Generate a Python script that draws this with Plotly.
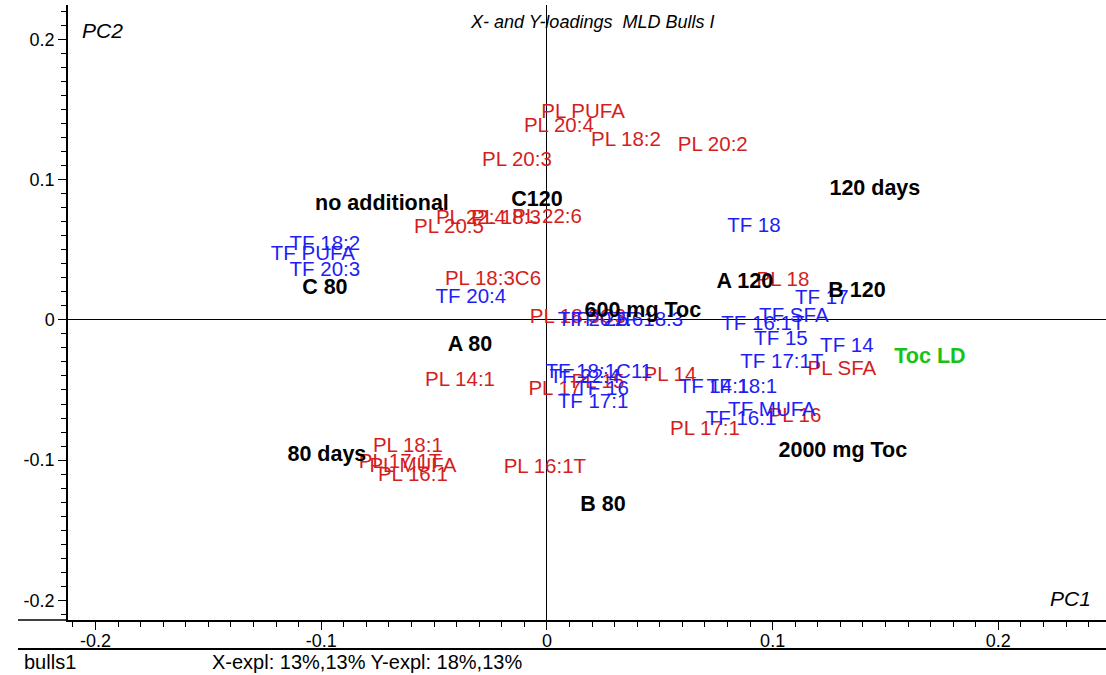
import plotly.graph_objects as go

# ---- data (PC1, PC2 loadings) ----
pl_labels = ["PL PUFA", "PL 20:4", "PL 18:2", "PL 20:2", "PL 20:3", "PL 20:5", "PL 22:4",
             "PL 18:3", "PL 22:6", "PL 18:3C6", "PL 18:3C3", "PL 14:1", "PL 17", "PL 15",
             "PL 14", "PL 17:1", "PL 16", "PL SFA", "PL 18", "PL 16:1T", "PL 18:1",
             "PL 17:1T", "PL MUFA", "PL 16:1"]
pl_x = [0.0160, 0.0053, 0.0350, 0.0735, -0.0133, -0.0434, -0.0337, -0.0182, 0.0000, -0.0239,
        0.0137, -0.0385, 0.0035, 0.0226, 0.0545, 0.0700, 0.1099, 0.1307, 0.1046, -0.0009,
        -0.0616, -0.0651, -0.0594, -0.0594]
pl_y = [0.1475, 0.1376, 0.1276, 0.1240, 0.1133, 0.0656, 0.0720, 0.0720, 0.0727, 0.0285,
        0.0014, -0.0435, -0.0499, -0.0449, -0.0399, -0.0784, -0.0691, -0.0356, 0.0278, -0.1055,
        -0.0905, -0.1019, -0.1048, -0.1112]

tf_labels = ["TF 18:2", "TF PUFA", "TF 20:3", "TF 20:4", "TF 18", "TF 17", "TF SFA", "TF 16:1T",
             "TF 15", "TF 14", "TF 17:1T", "TF 14:1", "TF 18:1", "TF MUFA", "TF 16:1",
             "TF 18:1C11", "TF 22:4", "TF 16", "TF 17:1", "TF 20:5", "TF 22:6", "TF 18:3"]
tf_x = [-0.0984, -0.1037, -0.0984, -0.0337, 0.0917, 0.1218, 0.1094, 0.0957, 0.1037, 0.1329,
        0.1041, 0.0740, 0.0864, 0.0997, 0.0860, 0.0230, 0.0168, 0.0244, 0.0204, 0.0204,
        0.0270, 0.0447]
tf_y = [0.0535, 0.0463, 0.0349, 0.0157, 0.0663, 0.0150, 0.0021, -0.0036, -0.0143, -0.0192,
        -0.0306, -0.0485, -0.0485, -0.0649, -0.0713, -0.0378, -0.0413, -0.0499, -0.0592,
        -0.0007, -0.0007, -0.0007]

design_labels = ["no additional", "C120", "120 days", "A 120", "B 120", "C 80", "600 mg Toc",
                 "A 80", "80 days", "2000 mg Toc", "B 80"]
design_x = [-0.0731, -0.0044, 0.1453, 0.0877, 0.1374, -0.0984, 0.0425, -0.0341, -0.0975,
            0.1311, 0.0248]
design_y = [0.0820, 0.0848, 0.0927, 0.0264, 0.0200, 0.0221, 0.0057, -0.0185, -0.0969,
            -0.0941, -0.1326]

toc_labels = ["Toc LD"]
toc_x = [0.1697]
toc_y = [-0.0271]

x_tickvals = [-0.2, -0.1, 0, 0.1, 0.2]
x_ticktext = ["-0.2", "-0.1", "0", "0.1", "0.2"]
y_tickvals = [-0.2, -0.1, 0, 0.1, 0.2]
y_ticktext = ["-0.2", "-0.1", "0", "0.1", "0.2"]

FONT = "Liberation Sans, Arial, sans-serif"
RED = "#d41e1e"
BLUE = "#1e1ef5"
GREEN = "#16c316"

fig = go.Figure()
fig.add_trace(go.Scatter(x=pl_x, y=pl_y, text=pl_labels, mode="text", textposition="middle center",
                         textfont=dict(family=FONT, size=20.5, color=RED), hoverinfo="skip"))
fig.add_trace(go.Scatter(x=tf_x, y=tf_y, text=tf_labels, mode="text", textposition="middle center",
                         textfont=dict(family=FONT, size=20.5, color=BLUE), hoverinfo="skip"))
fig.add_trace(go.Scatter(x=design_x, y=design_y, text=["<b>%s</b>" % t for t in design_labels],
                         mode="text", textposition="middle center",
                         textfont=dict(family=FONT, size=21.5, color="black"), hoverinfo="skip"))
fig.add_trace(go.Scatter(x=toc_x, y=toc_y, text=["<b>%s</b>" % t for t in toc_labels],
                         mode="text", textposition="middle center",
                         textfont=dict(family=FONT, size=21.5, color=GREEN), hoverinfo="skip"))

fig.update_layout(
    width=1106, height=675,
    margin=dict(l=68, r=0, t=5, b=55),
    paper_bgcolor="white", plot_bgcolor="white",
    showlegend=False,
    font=dict(family=FONT, color="black"),
    xaxis=dict(range=[-0.2122, 0.2477], showgrid=False, zeroline=True, zerolinecolor="black",
               zerolinewidth=1, showline=True, linecolor="black", linewidth=1.5,
               ticks="outside", ticklen=8, tickcolor="black", tickwidth=1,
               tickvals=x_tickvals, ticktext=x_ticktext, tickfont=dict(size=18),
               ticklabelstandoff=-4,
               minor=dict(ticks="outside", ticklen=5, dtick=0.01, tick0=0, tickcolor="black",
                          showgrid=False)),
    yaxis=dict(range=[-0.214, 0.2245], showgrid=False, zeroline=True, zerolinecolor="black",
               zerolinewidth=1, showline=True, linecolor="black", linewidth=1.5,
               ticks="outside", ticklen=8, tickcolor="black", tickwidth=1,
               tickvals=y_tickvals, ticktext=y_ticktext, tickfont=dict(size=18),
               minor=dict(ticks="outside", ticklen=5, dtick=0.01, tick0=0, tickcolor="black",
                          showgrid=False)),
)

# extension of the bottom axis line and the footer rule
fig.add_shape(type="line", xref="paper", yref="paper", x0=-50 / 1038, x1=0,
              y0=0, y1=0, line=dict(color="black", width=1.5))
fig.add_shape(type="line", xref="paper", yref="paper", x0=-50 / 1038, x1=1,
              y0=-29 / 615, y1=-29 / 615, line=dict(color="black", width=2))

fig.add_annotation(text="<i>X- and Y-loadings  MLD Bulls I</i>", xref="paper", yref="paper",
                   x=(592 - 68) / 1038, y=(620 - 22) / 615, showarrow=False,
                   font=dict(size=18), xanchor="center", yanchor="middle")
fig.add_annotation(text="<i>PC2</i>", xref="paper", yref="paper",
                   x=(102 - 68) / 1038, y=(620 - 30) / 615, showarrow=False,
                   font=dict(size=21), xanchor="center", yanchor="middle")
fig.add_annotation(text="<i>PC1</i>", xref="paper", yref="paper",
                   x=(1070 - 68) / 1038, y=(620 - 598) / 615, showarrow=False,
                   font=dict(size=21), xanchor="center", yanchor="middle")
fig.add_annotation(text="bulls1", xref="paper", yref="paper",
                   x=(22 - 68) / 1038, y=(620 - 662) / 615, showarrow=False,
                   font=dict(size=20), xanchor="left", yanchor="middle")
fig.add_annotation(text="X-expl: 13%,13% Y-expl: 18%,13%", xref="paper", yref="paper",
                   x=(210 - 68) / 1038, y=(620 - 662) / 615, showarrow=False,
                   font=dict(size=20), xanchor="left", yanchor="middle")

fig.write_html("out.html")
